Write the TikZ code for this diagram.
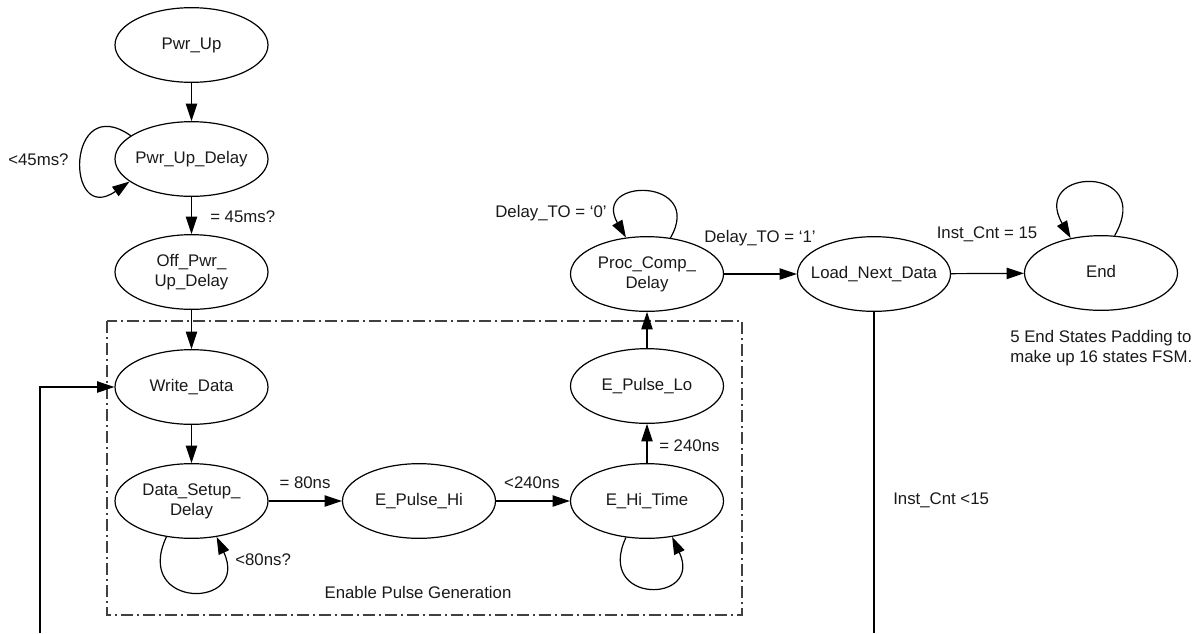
\documentclass[tikz,border=0pt]{standalone}
\usepackage{fontspec}
\setmainfont{Liberation Sans}
\usetikzlibrary{shapes.geometric,arrows.meta}
\newcommand\ctext[1]{\makebox[0pt]{\begin{tabular}{@{}c@{}}#1\end{tabular}}}
\begin{document}
\begin{tikzpicture}[x=0.75pt,y=-0.75pt,
  font=\fontsize{12.6}{15}\selectfont,
  st/.style={ellipse,draw,line width=0.9pt,minimum width=114.75pt,minimum height=56pt,inner sep=0pt,text=black!90},
  arr/.style={line width=0.9pt,-{Triangle[length=13pt,width=8.5pt]}},
  conn/.style={line width=0.9pt},
  lbl/.style={text=black!90,inner sep=0pt},
  grpbox/.style={draw=black!75,line width=0.9pt,dash pattern=on 9pt off 3pt on 1.5pt off 3pt}]
\useasboundingbox (0,0) rectangle (1200,633);
% group box
\draw[grpbox] (107,321) rectangle (742,615);
% states
\node[st] (pu)  at (191.5,45)  {\ctext{Pwr\_Up}};
\node[st] (pud) at (191.5,159) {\ctext{Pwr\_Up\_Delay}};
\node[st] (opd) at (191.5,272) {\ctext{Off\_Pwr\_\\Up\_Delay}};
\node[st] (wd)  at (191.5,387) {\ctext{Write\_Data}};
\node[st] (dsd) at (191.5,501) {\ctext{Data\_Setup\_\\Delay}};
\node[st] (eph) at (419,501)   {\ctext{E\_Pulse\_Hi}};
\node[st] (eht) at (647,501)   {\ctext{E\_Hi\_Time}};
\node[st] (epl) at (647,386)   {\ctext{E\_Pulse\_Lo}};
\node[st] (pcd) at (647,274)   {\ctext{Proc\_Comp\_\\Delay}};
\node[st] (lnd) at (874,274)   {\ctext{Load\_Next\_Data}};
\node[st] (end) at (1101,273)  {\ctext{End}};
% free ends
\coordinate (fbL) at (40,633);
\coordinate (fbR) at (874,633);
% transitions
\draw[arr] (pu) -- (pud);
\draw[arr] (pud) -- (opd);
\draw[arr] (opd) -- (wd);
\draw[arr] (wd) -- (dsd);
\draw[arr] (dsd) -- (eph);
\draw[arr] (eph) -- (eht);
\draw[arr] (eht) -- (epl);
\draw[arr] (epl) -- (pcd);
\draw[arr] (pcd) -- (lnd);
\draw[arr] (lnd) -- (end);
\draw[conn] (lnd.south) -- (fbR);
\draw[arr] (fbL) |- (wd.west);
% self loops
\draw[arr] (pud.159) to[out=145,in=215,looseness=4.4] (pud.200);
\draw[arr] (dsd.235) to[out=245,in=295,looseness=4.1] (dsd.305);
\draw[arr] (eht.240) to[out=245,in=295,looseness=4.1] (eht.305);
\draw[arr] (pcd.57) to[out=60,in=120,looseness=4.0] (pcd.120);
\draw[arr] (end.70) to[out=60,in=120,looseness=4.8] (end.131);
% labels
\node[lbl,anchor=west] (t1) at (8,160) {<45ms?};
\node[lbl,anchor=west] (t2) at (210,217) {= 45ms?};
\node[lbl] (t3) at (305,483) {= 80ns};
\node[lbl,anchor=west] (t4) at (235,560) {<80ns?};
\node[lbl] (t5) at (532,483) {<240ns};
\node[lbl,anchor=west] (t6) at (659,446) {= 240ns};
\node[lbl] (t7) at (418,592) {Enable Pulse Generation};
\node[lbl] (t8) at (551,213) {Delay\_TO = `0'};
\node[lbl] (t9) at (760,238) {Delay\_TO = `1'};
\node[lbl] (t10) at (987,234) {Inst\_Cnt = 15};
\node[lbl,anchor=west,align=left] (t11) at (1010,348) {5 End States Padding to\\make up 16 states FSM.};
\node[lbl,anchor=west] (t12) at (893,500) {Inst\_Cnt <15};
\end{tikzpicture}
\end{document}
